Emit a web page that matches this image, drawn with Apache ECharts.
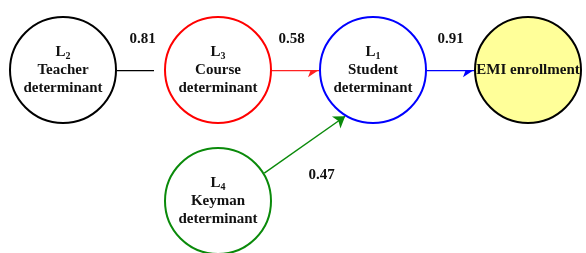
<!DOCTYPE html>
<html><head><meta charset="utf-8">
<script src="https://cdn.jsdelivr.net/npm/echarts@6/dist/echarts.min.js"></script>
<style>html,body{margin:0;padding:0;background:#fff}#c{width:586px;height:253px}</style>
</head><body><div id="c"></div>
<script>
// Nodes
var nodeIds   = ['L2', 'L3', 'L1', 'EMI', 'L4'];
var nodeSub   = ['2', '3', '1', '', '4'];
var nodeNames = ['Teacher\ndeterminant', 'Course\ndeterminant', 'Student\ndeterminant', 'EMI enrollment', 'Keyman\ndeterminant'];
var nodeCol   = [0, 1, 2, 3, 1];
var nodeRow   = [0, 0, 0, 0, 1];
// Links (path coefficients)
var linkSource = ['L2', 'L3', 'L1', 'L4'];
var linkTarget = ['L3', 'L1', 'EMI', 'L1'];
var linkValue  = [0.81, 0.58, 0.91, 0.47];

// styles
var nodeBorder = ['#000000', '#ff0000', '#0000ff', '#000000', '#0a8a0a'];
var nodeFill   = ['#ffffff', '#ffffff', '#ffffff', '#ffff99', '#ffffff'];
var linkColor  = ['#000000', '#ff2222', '#0000ff', '#0a8a0a'];
var linkArrow  = [false, true, true, true];
var linkFromAngle = [0, 0, 0, -31];     // port angle on source circle (deg, screen)
var linkToAngle   = [180, 180, 180, 121]; // port angle on target circle
var linkEndGap    = [10, 0, 0, 0];
var labelOffset = [[2, -31], [-4, -31], [0, -31], [26, 40]];
var NODE_SIZE = 106, NODE_BORDER = 2;

var FONT = '"Liberation Serif","Times New Roman",serif';
var rich = {
  b: {fontFamily: FONT, fontWeight: 'bold', fontSize: 15, color: '#111', lineHeight: 18},
  s: {fontFamily: FONT, fontWeight: 'bold', fontSize: 10, color: '#111', lineHeight: 18, verticalAlign: 'bottom', padding: [4, 0, 0, 0]}
};

var nodes = nodeIds.map(function (id, i) {
  var fmt;
  if (nodeSub[i]) {
    fmt = '{b|L}{s|' + nodeSub[i] + '}\n' + nodeNames[i].split('\n').map(function (t) { return '{b|' + t + '}'; }).join('\n');
  } else {
    fmt = '{b|' + nodeNames[i] + '}';
  }
  return {
    name: id,
    value: [nodeCol[i], nodeRow[i]],
    symbol: 'circle',
    symbolSize: NODE_SIZE,
    itemStyle: {color: nodeFill[i], borderColor: nodeBorder[i], borderWidth: NODE_BORDER},
    label: {show: true, position: 'inside', formatter: fmt, rich: rich, align: 'center'}
  };
});

var idx = {};
nodeIds.forEach(function (id, i) { idx[id] = i; });
var mids = linkSource.map(function (s, i) {
  var a = idx[s], b = idx[linkTarget[i]];
  return {
    value: [(nodeCol[a] + nodeCol[b]) / 2, (nodeRow[a] + nodeRow[b]) / 2, linkValue[i]],
    label: {offset: labelOffset[i]}
  };
});

var chart = echarts.init(document.getElementById('c'), null, {renderer: 'canvas'});
var base = {
  animation: false,
  backgroundColor: '#ffffff',
  grid: {left: 63, right: 58, top: 70, bottom: 52},
  xAxis: {type: 'value', min: 0, max: 3, show: false},
  yAxis: {type: 'value', min: 0, max: 1, inverse: true, show: false},
  series: [{
    id: 'nodes',
    type: 'graph',
    coordinateSystem: 'cartesian2d',
    data: nodes,
    z: 3,
    emphasis: {disabled: true},
    silent: true
  }, {
    id: 'vals',
    type: 'scatter',
    symbolSize: 0,
    data: mids,
    silent: true,
    z: 4,
    itemStyle: {opacity: 1},
    label: {
      show: true, position: 'inside',
      formatter: function (p) { return p.value[2].toFixed(2); },
      fontFamily: FONT, fontWeight: 'bold', fontSize: 15, color: '#111'
    }
  }]
};
chart.setOption(base);

// edges: from a port on the source circle to a port on the target circle
var R = NODE_SIZE / 2 + NODE_BORDER / 2;
var edgeData = linkSource.map(function (s, i) {
  var a = idx[s], b = idx[linkTarget[i]];
  var pa = chart.convertToPixel({gridIndex: 0}, [nodeCol[a], nodeRow[a]]);
  var pb = chart.convertToPixel({gridIndex: 0}, [nodeCol[b], nodeRow[b]]);
  var fa = linkFromAngle[i] * Math.PI / 180, ta = linkToAngle[i] * Math.PI / 180;
  var p1 = [pa[0] + R * Math.cos(fa), pa[1] + R * Math.sin(fa)];
  var rr = R + linkEndGap[i];
  var p2 = [pb[0] + rr * Math.cos(ta), pb[1] + rr * Math.sin(ta)];
  return {
    coords: [chart.convertFromPixel({gridIndex: 0}, p1), chart.convertFromPixel({gridIndex: 0}, p2)],
    symbol: ['none', linkArrow[i] ? 'arrow' : 'none'],
    symbolSize: [0, 11],
    lineStyle: {color: linkColor[i], width: 1.4, opacity: 1, curveness: 0}
  };
});
chart.setOption({
  series: [{id: 'nodes'}, {id: 'vals'}, {
    id: 'edges',
    type: 'lines',
    coordinateSystem: 'cartesian2d',
    polyline: false,
    data: edgeData,
    z: 2,
    silent: true,
    emphasis: {disabled: true}
  }]
});
</script></body></html>
